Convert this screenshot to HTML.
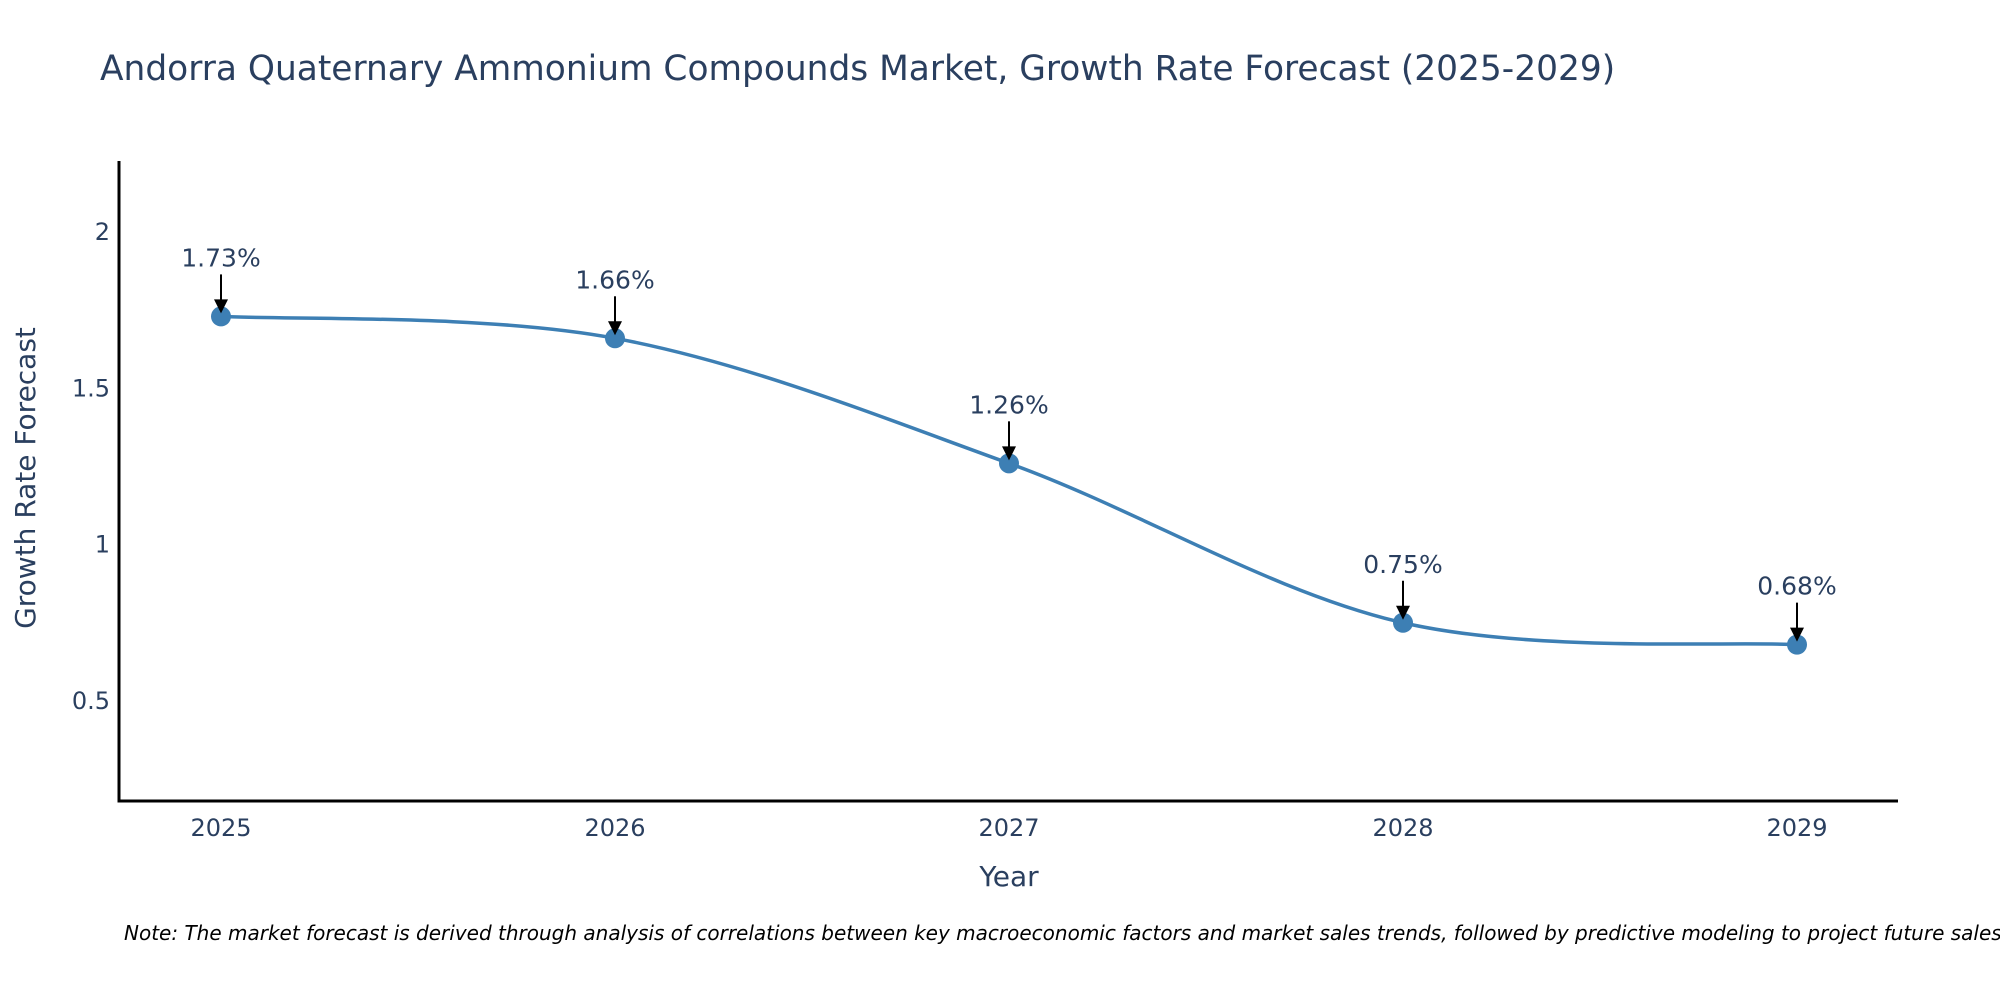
<!DOCTYPE html>
<html><head><meta charset="utf-8"><style>
html,body{margin:0;padding:0;background:#fff;}
svg{display:block;font-family:"DejaVu Sans","Liberation Sans",sans-serif;}
</style></head><body>
<svg id="chart" width="2000" height="1000" viewBox="0 0 2000 1000" xmlns="http://www.w3.org/2000/svg">
<text x="100" y="80" font-size="34.4" fill="#2a3f5f">Andorra Quaternary Ammonium Compounds Market, Growth Rate Forecast (2025-2029)</text>
<g id="yticks"></g>
<g id="xticks"></g>
<line x1="119" y1="161" x2="119" y2="802" stroke="#000" stroke-width="3"/>
<line x1="117.5" y1="801" x2="1898" y2="801" stroke="#000" stroke-width="3"/>
<text transform="translate(35,478) rotate(-90)" text-anchor="middle" font-size="28" fill="#2a3f5f">Growth Rate Forecast</text>
<text x="1009" y="886" text-anchor="middle" font-size="28" fill="#2a3f5f">Year</text>
<g id="series"></g>
<g id="annots"></g>
<text x="124" y="940" font-size="20" font-style="italic" fill="#000">Note: The market forecast is derived through analysis of correlations between key macroeconomic factors and market sales trends, followed by predictive modeling to project future sales.</text>
</svg>
<script>
const years = [2025, 2026, 2027, 2028, 2029];
const values = [1.73, 1.66, 1.26, 0.75, 0.68];
const valueLabels = ["1.73%", "1.66%", "1.26%", "0.75%", "0.68%"];
const yTicks = [0.5, 1, 1.5, 2];
const yTickLabels = ["0.5", "1", "1.5", "2"];

const NS = "http://www.w3.org/2000/svg";
function xScale(yr){ return 221 + (yr - 2025) * 394; }
function yScale(v){ return 232 + (2 - v) * 312.6; }
function mk(tag, attrs, parent){
  const e = document.createElementNS(NS, tag);
  for (const k in attrs) e.setAttribute(k, attrs[k]);
  parent.appendChild(e); return e;
}
const yt = document.getElementById('yticks');
yTicks.forEach((v,i)=>{
  const t = mk('text',{x:110,y:yScale(v)+8,'text-anchor':'end','font-size':24,fill:'#2a3f5f'},yt);
  
  
  t.textContent = yTickLabels[i];
});
const xt = document.getElementById('xticks');
years.forEach(yr=>{
  const t = mk('text',{x:xScale(yr),y:836,'text-anchor':'middle','font-size':24,fill:'#2a3f5f'},xt);
  
  
  t.textContent = String(yr);
});
const pts = years.map((yr,i)=>[xScale(yr), yScale(values[i])]);
let d = `M${pts[0][0]},${pts[0][1]}`;
for (let i=0;i<pts.length-1;i++){
  const p0 = pts[Math.max(i-1,0)], p1 = pts[i], p2 = pts[i+1], p3 = pts[Math.min(i+2,pts.length-1)];
  const c1 = [p1[0]+(p2[0]-p0[0])/6, p1[1]+(p2[1]-p0[1])/6];
  const c2 = [p2[0]-(p3[0]-p1[0])/6, p2[1]-(p3[1]-p1[1])/6];
  d += ` C${c1[0]},${c1[1]} ${c2[0]},${c2[1]} ${p2[0]},${p2[1]}`;
}
const ser = document.getElementById('series');
const line = mk('path',{d:d,fill:'none',stroke:'#3d7fb4','stroke-width':3.5},ser);


pts.forEach(p=>{
  const c = mk('circle',{cx:p[0],cy:p[1],r:10,fill:'#3d7fb4'},ser);
  
  
});
const an = document.getElementById('annots');
pts.forEach((p,i)=>{
  const l = mk('line',{x1:p[0],y1:p[1]-42,x2:p[0],y2:p[1]-14,stroke:'#000','stroke-width':2},an);
  
  
  const h = mk('polygon',{points:`${p[0]-7},${p[1]-17} ${p[0]+7},${p[1]-17} ${p[0]},${p[1]-3}`,fill:'#000'},an);
  
  
  const t = mk('text',{x:p[0],y:p[1]-50,'text-anchor':'middle','font-size':25,fill:'#2a3f5f'},an);
  
  
  t.textContent = valueLabels[i];
});
</script>
</body></html>
